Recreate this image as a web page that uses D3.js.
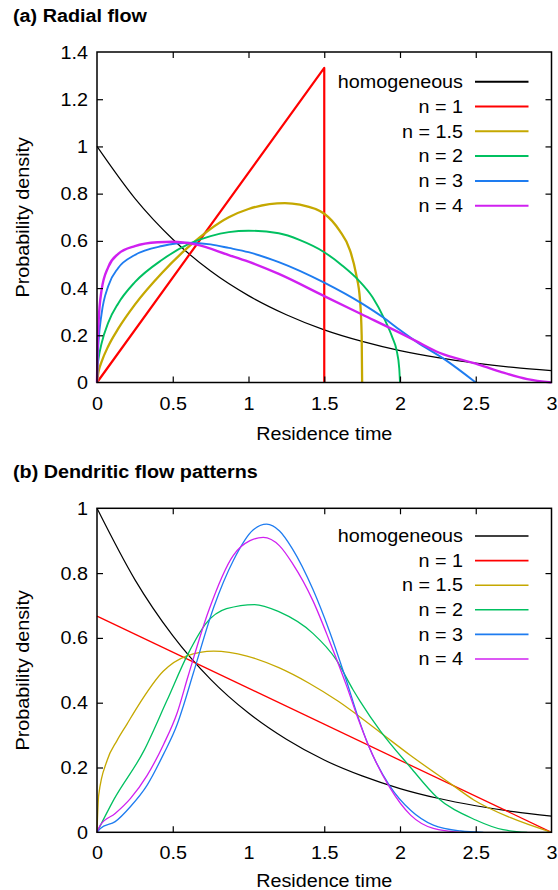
<!DOCTYPE html>
<html>
<head>
<meta charset="utf-8">
<script src="https://cdn.jsdelivr.net/npm/d3@7"></script>
<style>
  body { margin: 0; background: #fff; }
  svg { display: block; font-family: "Liberation Sans", Arial, sans-serif; }
</style>
</head>
<body>
<div id="chart"></div>
<script>
// residence time distributions, two panels sharing the same x axis
const width = 558;
const height = 890;

const xTicks = [0, 0.5, 1, 1.5, 2, 2.5, 3];
const yTicksA = [0, 0.2, 0.4, 0.6, 0.8, 1, 1.2, 1.4];
const yTicksB = [0, 0.2, 0.4, 0.6, 0.8, 1];
const seriesNames = ['homogeneous', 'n = 1', 'n = 1.5', 'n = 2', 'n = 3', 'n = 4'];
const colors = ['#000000', '#ff0000', '#c5a800', '#00c060', '#1e7cf0', '#d020f0'];

// [time, density]
const homogeneous = [[0, 1], [0.25, 0.78], [0.5, 0.607], [0.75, 0.472], [1, 0.368], [1.25, 0.287],
  [1.5, 0.223], [1.75, 0.174], [2, 0.135], [2.25, 0.105], [2.5, 0.082], [2.75, 0.064], [3, 0.05]];

// (a) radial flow
const radialN1 = [[0, 0], [1.5, 1.333], [1.5, 0]];
const radialN15 = [[0, 0], [0.01, 0.045], [0.03, 0.087], [0.075, 0.155], [0.14, 0.228], [0.25, 0.33],
  [0.43, 0.465], [0.6, 0.572], [0.87, 0.7], [1, 0.735], [1.24, 0.76], [1.34, 0.753], [1.5, 0.715],
  [1.6, 0.644], [1.67, 0.56], [1.71, 0.46], [1.736, 0.35], [1.747, 0.2], [1.75, 0]];
const radialN2 = [[0, 0], [0.003, 0.06], [0.01, 0.1], [0.03, 0.165], [0.075, 0.255], [0.14, 0.335],
  [0.25, 0.425], [0.43, 0.52], [0.6, 0.585], [0.75, 0.62], [0.87, 0.637], [1, 0.643], [1.2, 0.632],
  [1.34, 0.603], [1.5, 0.552], [1.62, 0.495], [1.727, 0.433], [1.82, 0.36], [1.9, 0.265],
  [1.95, 0.19], [1.977, 0.138], [1.995, 0.06], [2, 0]];
const radialN3 = [[0, 0], [0.003, 0.08], [0.01, 0.17], [0.03, 0.29], [0.075, 0.41], [0.14, 0.485],
  [0.25, 0.54], [0.43, 0.578], [0.6, 0.592], [0.75, 0.585], [0.87, 0.57], [1, 0.552], [1.2, 0.51],
  [1.5, 0.423], [1.75, 0.334], [1.89, 0.275], [2, 0.222], [2.11, 0.172], [2.29, 0.1], [2.5, 0]];
const radialN4 = [[0, 0], [0.003, 0.12], [0.01, 0.25], [0.03, 0.39], [0.075, 0.49], [0.14, 0.545],
  [0.25, 0.578], [0.4, 0.594], [0.5, 0.596], [0.65, 0.585], [0.87, 0.54], [1, 0.512], [1.2, 0.46],
  [1.5, 0.366], [1.75, 0.288], [2, 0.21], [2.11, 0.174], [2.26, 0.126], [2.5, 0.08], [2.66, 0.046],
  [2.84, 0.014], [3, 0]];

// (b) dendritic flow patterns
const dendN1 = [[0, 0.667], [3, 0]];
const dendN15 = [[0, 0], [0.011, 0.114], [0.066, 0.221], [0.132, 0.283], [0.198, 0.334], [0.264, 0.385],
  [0.437, 0.497], [0.59, 0.544], [0.77, 0.559], [0.99, 0.544], [1.2, 0.508], [1.4, 0.46], [1.59, 0.405],
  [1.87, 0.308], [2.07, 0.237], [2.34, 0.148], [2.49, 0.099], [2.73, 0.045], [3, 0]];
const dendN2 = [[0, 0], [0.11, 0.1], [0.31, 0.252], [0.46, 0.405], [0.6, 0.55], [0.72, 0.645],
  [0.855, 0.69], [1.04, 0.703], [1.2, 0.681], [1.425, 0.614], [1.58, 0.532], [1.69, 0.44],
  [1.736, 0.405], [1.87, 0.313], [2.07, 0.2], [2.24, 0.11], [2.5, 0.038], [2.68, 0.008], [2.84, 0]];
const dendN3 = [[0, 0], [0.022, 0.012], [0.12, 0.033], [0.22, 0.079], [0.33, 0.145], [0.44, 0.242],
  [0.53, 0.334], [0.57, 0.39], [0.635, 0.49], [0.77, 0.694], [0.9, 0.839], [1.03, 0.933], [1.12, 0.951],
  [1.205, 0.93], [1.29, 0.875], [1.425, 0.75], [1.535, 0.62], [1.645, 0.47], [1.72, 0.36], [1.79, 0.27],
  [1.93, 0.145], [2.07, 0.068], [2.22, 0.022], [2.4, 0.004], [2.55, 0]];
const dendN4 = [[0, 0], [0.022, 0.022], [0.12, 0.058], [0.22, 0.104], [0.33, 0.175], [0.44, 0.272],
  [0.53, 0.37], [0.6, 0.48], [0.734, 0.68], [0.9, 0.855], [1.01, 0.9], [1.097, 0.91], [1.205, 0.884],
  [1.29, 0.83], [1.425, 0.715], [1.535, 0.59], [1.645, 0.455], [1.72, 0.355], [1.79, 0.27], [1.93, 0.14],
  [2.07, 0.053], [2.22, 0.012], [2.4, 0]];

const fontSize = 17.5;
const stretch = 1.13;   // glyphs in the original are a bit wider than Arial

const panels = [
  {title: '(a) Radial flow', top: 52, bottom: 382.5, yMax: 1.4, yTicks: yTicksA,
   series: [homogeneous, radialN1, radialN15, radialN2, radialN3, radialN4],
   widths: [1.2, 2.2, 2.3, 1.9, 1.9, 2.4], legendTop: 81.7, legendStep: 24.8, legendWidth: 2,
   xLabelGap: 57},
  {title: '(b) Dendritic flow patterns', top: 508.3, bottom: 832.3, yMax: 1, yTicks: yTicksB,
   series: [homogeneous, dendN1, dendN15, dendN2, dendN3, dendN4],
   widths: [1.2, 1.3, 1.3, 1.3, 1.3, 1.3], legendTop: 536, legendStep: 24.6, legendWidth: 1.6,
   xLabelGap: 54.5}
];

const left = 97, right = 551.5;
const x = d3.scaleLinear().domain([0, 3]).range([left, right]);

const svg = d3.select('#chart').append('svg').attr('width', width).attr('height', height);

const txt = (g, s, tx, ty, anchor, weight) => g.append('text')
  .attr('transform', `translate(${tx},${ty}) scale(${stretch},1)`)
  .attr('text-anchor', anchor)
  .attr('font-size', fontSize)
  .attr('font-weight', weight || 'normal')
  .text(s);

panels.forEach(p => {
  const y = d3.scaleLinear().domain([0, p.yMax]).range([p.bottom, p.top]);
  const g = svg.append('g');

  txt(g, p.title, 13, p.top - 30.5, 'start', 'bold');

  const line = d3.line().x(d => x(d[0])).y(d => y(d[1]));
  p.series.forEach((s, i) => {
    line.curve(s.length <= 3 ? d3.curveLinear : d3.curveMonotoneX);
    g.append('path')
      .attr('d', line(s))
      .attr('fill', 'none')
      .attr('stroke', colors[i])
      .attr('stroke-width', p.widths[i])
      .attr('stroke-linejoin', 'round');
  });

  // axes with inward ticks on all four sides
  const styleAxis = a => a
    .call(a => a.select('.domain').remove())
    .call(a => a.selectAll('line').attr('stroke', '#000').attr('stroke-width', 1.2));

  g.append('g').attr('transform', `translate(0,${p.bottom})`)
    .call(d3.axisBottom(x).tickValues(xTicks).tickSize(-6).tickFormat(d => d))
    .call(styleAxis)
    .call(a => a.selectAll('text')
      .attr('y', null).attr('dy', null)
      .attr('transform', `translate(0,27) scale(${stretch},1)`)
      .attr('font-size', fontSize).attr('fill', '#000'));
  g.append('g').attr('transform', `translate(0,${p.top})`)
    .call(d3.axisTop(x).tickValues(xTicks).tickSize(-6).tickFormat(''))
    .call(styleAxis);
  g.append('g').attr('transform', `translate(${left},0)`)
    .call(d3.axisLeft(y).tickValues(p.yTicks).tickSize(-6).tickFormat(d => d))
    .call(styleAxis)
    .call(a => a.selectAll('text')
      .attr('x', null).attr('dy', null)
      .attr('transform', `translate(-9,6) scale(${stretch},1)`)
      .attr('font-size', fontSize).attr('fill', '#000'));
  g.append('g').attr('transform', `translate(${right},0)`)
    .call(d3.axisRight(y).tickValues(p.yTicks).tickSize(-6).tickFormat(''))
    .call(styleAxis);
  g.selectAll('.tick').filter(d => d === 0 || d === 3 || d === p.yMax).select('line').remove();

  g.append('rect')
    .attr('x', left).attr('y', p.top)
    .attr('width', right - left).attr('height', p.bottom - p.top)
    .attr('fill', 'none').attr('stroke', '#000').attr('stroke-width', 1.5);

  txt(g, 'Residence time', (left + right) / 2, p.bottom + p.xLabelGap, 'middle');
  g.append('text')
    .attr('transform', `translate(28.5,${(p.top + p.bottom) / 2}) rotate(-90) scale(${stretch},1)`)
    .attr('text-anchor', 'middle')
    .attr('font-size', fontSize)
    .text('Probability density');

  // legend
  seriesNames.forEach((name, i) => {
    const ly = p.legendTop + i * p.legendStep;
    txt(g, name, 463, ly + 6.2, 'end');
    g.append('line')
      .attr('x1', 475).attr('x2', 528.5).attr('y1', ly).attr('y2', ly)
      .attr('stroke', colors[i]).attr('stroke-width', p.legendWidth);
  });
});
</script>
</body>
</html>
